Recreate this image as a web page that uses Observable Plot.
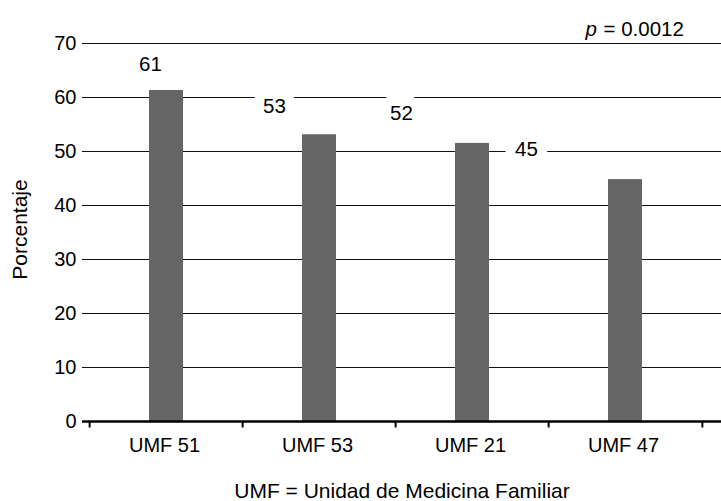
<!DOCTYPE html>
<html>
<head>
<meta charset="utf-8">
<script src="https://cdn.jsdelivr.net/npm/d3@7"></script>
<script src="https://cdn.jsdelivr.net/npm/@observablehq/plot@0.6"></script>
<style>
  html, body { margin: 0; padding: 0; background: #fff; }
  #chart svg { display: block; }
</style>
</head>
<body>
<div id="chart"></div>
<script>
const categories = ["UMF 51", "UMF 53", "UMF 21", "UMF 47"];
const values = [61.3, 53.1, 51.5, 44.8];
const labels = ["61", "53", "52", "45"];
const labelY = [66.1, 58.3, 57.0, 50.4];
const labelDx = [-16, -45, -71, -99];
const yTicks = [0, 10, 20, 30, 40, 50, 60, 70];
const yLabel = "Porcentaje";
const caption = "UMF = Unidad de Medicina Familiar";
const pLetter = "p";
const pValue = "= 0.0012";

const data = categories.map((c, i) => ({cat: c, value: values[i], label: labels[i], ly: labelY[i], dx: labelDx[i]}));

const W = 721, H = 501, ML = 82, MR = 0, INL = 6, INR = 18;
const step = (W - ML - MR - INL - INR) / categories.length;

const font = "'Liberation Sans', Arial, Helvetica, sans-serif";

const marks = [
  Plot.ruleY(yTicks.filter(d => d > 0), {stroke: "#111", strokeWidth: 1.2}),
  Plot.barY(data, {x: "cat", y: "value", fill: "#666666"}),
  Plot.ruleY([0], {stroke: "#000", strokeWidth: 2.5}),
  Plot.ruleX(categories, {x: d => d, y1: 0, y2: -1.2, dx: -step / 2, stroke: "#000", strokeWidth: 2}),
  Plot.ruleX([categories[categories.length - 1]], {x: d => d, y1: 0, y2: -1.2, dx: step / 2, stroke: "#000", strokeWidth: 2}),
  Plot.axisY({ticks: yTicks, tickSize: 0, tickPadding: 6, fontSize: 20, label: null}),
  Plot.axisX({tickSize: 0, tickPadding: 16, fontSize: 20, label: null, dx: -2}),
  Plot.text([yLabel], {frameAnchor: "left", text: d => d, rotate: -90, dx: -62, dy: -3, fontSize: 21, textAnchor: "middle"}),
  Plot.text([caption], {frameAnchor: "bottom", text: d => d, lineAnchor: "bottom", dy: 76, fontSize: 21}),
  Plot.text([pLetter], {frameAnchor: "top-right", text: d => d, textAnchor: "start", lineAnchor: "bottom", dx: -136, dy: -8, fontSize: 20.5, fontStyle: "italic"}),
  Plot.text([pValue], {frameAnchor: "top-right", text: d => d, textAnchor: "start", lineAnchor: "bottom", dx: -118, dy: -8, fontSize: 20.5})
];

// bar value labels, each with its own horizontal offset, with white backing
data.forEach(d => {
  marks.push(Plot.text([d], {x: "cat", y: "ly", text: "label", dx: d.dx, fontSize: 20.5, fill: "#000", stroke: "#fff", strokeWidth: 20, strokeLinejoin: "round"}));
});

const chart = Plot.plot({
  width: W,
  height: H,
  marginLeft: ML,
  marginRight: MR,
  marginTop: 43,
  marginBottom: 80,
  style: {fontFamily: font, fontSize: "20px", background: "#fff", color: "#000", overflow: "visible"},
  x: {domain: categories, paddingInner: 0.78, paddingOuter: 0.39, insetLeft: INL, insetRight: INR},
  y: {domain: [0, 70]},
  marks
});
document.getElementById("chart").appendChild(chart);
</script>
</body>
</html>
